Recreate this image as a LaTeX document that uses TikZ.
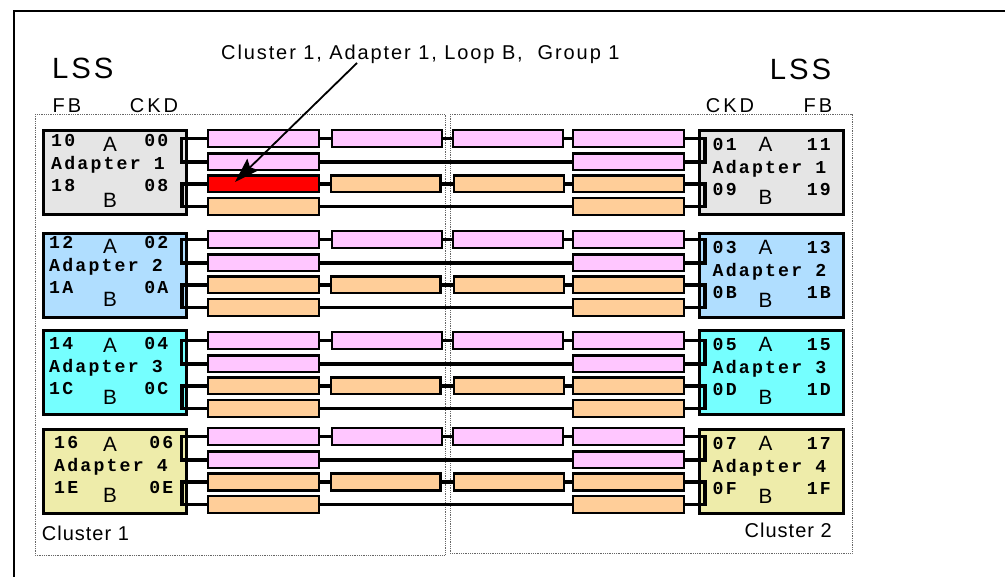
\documentclass[tikz,border=0pt]{standalone}
\usepackage{fontspec}
\setmainfont{Liberation Sans}
\newfontfamily\titlef[LetterSpace=9.5]{Liberation Sans}
\newfontfamily\lssf[LetterSpace=10]{Liberation Sans}
\newfontfamily\hdrf[LetterSpace=15]{Liberation Sans}
\newfontfamily\clf[LetterSpace=5]{Liberation Sans}
\newfontfamily\monob[LetterSpace=12]{Liberation Mono}
\usetikzlibrary{arrows.meta}
\definecolor{adgray}{RGB}{229,229,229}
\definecolor{adblue}{RGB}{176,222,255}
\definecolor{adcyan}{RGB}{117,255,255}
\definecolor{adyellow}{RGB}{238,236,170}
\definecolor{barpink}{RGB}{255,198,255}
\definecolor{barorange}{RGB}{255,206,153}
\definecolor{barred}{RGB}{255,0,0}
\tikzset{
  adbox/.style={draw=black, line width=2.6pt, minimum height=84.4pt, inner sep=0pt},
  bar/.style={draw=black, line width=2.2pt, minimum height=16.8pt, inner sep=0pt},
  w1/.style={minimum width=110.8pt},
  w2/.style={minimum width=109.8pt},
  conn/.style={draw=black, line width=3.2pt},
  cluster/.style={draw=black!60, line width=0.8pt, dash pattern=on 0.9pt off 0.9pt},
  monot/.style={inner sep=0pt, text height=11pt, text depth=1pt, font=\monob\bfseries\fontsize{18.2}{18.2}\selectfont},
  abt/.style={inner sep=0pt, anchor=base, text height=14.5pt, text depth=0pt, font=\fontsize{20.7}{20.7}\selectfont},
  pointer/.style={draw=black, line width=1.8pt, -{Stealth[length=25pt,width=16pt,inset=4pt]}},
}
\begin{document}
\begin{tikzpicture}[x=1pt,y=-1pt]
\useasboundingbox (0,0) rectangle (1005,577);
% outer frame
\draw[line width=2.3pt] (13.8,577) -- (13.8,11.2) -- (1005,11.2);
% clusters
\draw[cluster] (35,114) rectangle (445,555);
\draw[cluster] (450,114) rectangle (852,553);
% header labels
\node[inner sep=0pt, anchor=base west, font=\titlef\fontsize{20}{20}\selectfont] (title) at (221,60) {Cluster 1, Adapter 1, Loop B,\ \ Group 1};
\node[inner sep=0pt, anchor=base west, font=\lssf\fontsize{29.3}{29.3}\selectfont] (lssL) at (52,78.3) {LSS};
\node[inner sep=0pt, anchor=base west, font=\lssf\fontsize{29.3}{29.3}\selectfont] (lssR) at (769.6,80) {LSS};
\node[inner sep=0pt, anchor=base west, font=\hdrf\fontsize{20}{20}\selectfont] (fbL) at (52.4,112.7) {FB};
\node[inner sep=0pt, anchor=base west, font=\hdrf\fontsize{20}{20}\selectfont] (ckdL) at (129.7,112.7) {CKD};
\node[inner sep=0pt, anchor=base west, font=\hdrf\fontsize{20}{20}\selectfont] (ckdR) at (705.7,112.7) {CKD};
\node[inner sep=0pt, anchor=base west, font=\hdrf\fontsize{20}{20}\selectfont] (fbR) at (803.4,112.7) {FB};
\node[inner sep=0pt, anchor=base west, font=\clf\fontsize{20}{20}\selectfont] (cl1) at (41.7,540) {Cluster 1};
\node[inner sep=0pt, anchor=base west, font=\clf\fontsize{20}{20}\selectfont] (cl2) at (744.5,537.7) {Cluster 2};
% left adapters
\foreach \n/\T/\fc/\tb/\xl/\xr/\ltl/\ltr/\lbl/\lbr/\ao/\bo in {
  1/129/adgray/17.3/51/168.5/10/00/18/08/22.5/79,
  2/232/adblue/16.5/49/168.5/12/02/1A/0A/22/74.5,
  3/329/adcyan/20.7/49/168.5/14/04/1C/0C/23.5/75.7,
  4/428/adyellow/20.7/54/173.5/16/06/1E/0E/24/74.5}{
  \node[adbox, fill=\fc, minimum width=143.4pt] (L\n) at (115,\T+43.5) {};
  \node[monot, anchor=base west] (L\n-tl) at (\xl,\T+\tb) {\ltl};
  \node[monot, anchor=base east] (L\n-tr) at (\xr,\T+\tb) {\ltr};
  \node[monot, anchor=base west] (L\n-nm) at (\xl,\T+\tb+23) {Adapter \n};
  \node[monot, anchor=base west] (L\n-bl) at (\xl,\T+\tb+45) {\lbl};
  \node[monot, anchor=base east] (L\n-br) at (\xr,\T+\tb+45) {\lbr};
  \node[abt] (L\n-A) at (110,\T+\ao) {A};
  \node[abt] (L\n-B) at (110,\T+\bo) {B};
}
% right adapters
\foreach \n/\T/\fc/\rtl/\rtr/\rbl/\rbr in {
  1/129/adgray/01/11/09/19,
  2/232/adblue/03/13/0B/1B,
  3/329/adcyan/05/15/0D/1D,
  4/428/adyellow/07/17/0F/1F}{
  \node[adbox, fill=\fc, minimum width=144.4pt] (R\n) at (771.5,\T+43.5) {};
  \node[monot, anchor=base west] (R\n-tl) at (712.5,\T+21.7) {\rtl};
  \node[monot, anchor=base east] (R\n-tr) at (831,\T+21.7) {\rtr};
  \node[monot, anchor=base west] (R\n-nm) at (712.5,\T+44.7) {Adapter \n};
  \node[monot, anchor=base west] (R\n-bl) at (712.5,\T+66.5) {\rbl};
  \node[monot, anchor=base east] (R\n-br) at (831,\T+66.5) {\rbr};
  \node[abt] (R\n-A) at (765.5,\T+22.5) {A};
  \node[abt] (R\n-B) at (765.5,\T+75.5) {B};
}
% bars
\foreach \n/\by/\rc in {1/129/barred, 2/230/barorange, 3/331/barorange, 4/427/barorange}{
  \node[bar, w1, fill=barpink] (b\n-1-1) at (263.5,\by+9.5) {};
  \node[bar, w2, fill=barpink] (b\n-1-2) at (387,\by+9.5) {};
  \node[bar, w2, fill=barpink] (b\n-1-3) at (508,\by+9.5) {};
  \node[bar, w1, fill=barpink] (b\n-1-4) at (628.5,\by+9.5) {};
  \node[bar, w1, fill=barpink] (b\n-2-1) at (263.5,\by+33) {};
  \node[bar, w1, fill=barpink] (b\n-2-4) at (628.5,\by+33) {};
  \node[bar, w1, fill=\rc] (b\n-3-1) at (263.5,\by+55) {};
  \node[bar, w2, fill=barorange] (b\n-3-2) at (385.5,\by+55) {};
  \node[bar, w2, fill=barorange] (b\n-3-3) at (509,\by+55) {};
  \node[bar, w1, fill=barorange] (b\n-3-4) at (628.5,\by+55) {};
  \node[bar, w1, fill=barorange] (b\n-4-1) at (263.5,\by+77.5) {};
  \node[bar, w1, fill=barorange] (b\n-4-4) at (628.5,\by+77.5) {};
  % connectors
  \draw[conn] (b\n-1-1.east) -- (b\n-1-2.west);
  \draw[conn] (b\n-1-2.east) -- (b\n-1-3.west);
  \draw[conn] (b\n-1-3.east) -- (b\n-1-4.west);
  \draw[conn] (b\n-3-1.east) -- (b\n-3-2.west);
  \draw[conn] (b\n-3-2.east) -- (b\n-3-3.west);
  \draw[conn] (b\n-3-3.east) -- (b\n-3-4.west);
  \draw[conn] (b\n-2-1.east) -- (b\n-2-4.west);
  \draw[conn] (b\n-4-1.east) -- (b\n-4-4.west);
  % brackets to adapters
  \draw[conn] (b\n-1-1.west) -- ++(-25.5,0) |- (b\n-2-1.west);
  \draw[conn] (b\n-3-1.west) -- ++(-25,0) |- (b\n-4-1.west);
  \draw[conn] (b\n-1-4.east) -- ++(20,0) |- (b\n-2-4.east);
  \draw[conn] (b\n-3-4.east) -- ++(20,0) |- (b\n-4-4.east);
}
% pointer
\coordinate (arrS) at (357,63);
\coordinate (arrE) at (235,182);
\draw[pointer] (arrS) -- (arrE);
\end{tikzpicture}
\end{document}
